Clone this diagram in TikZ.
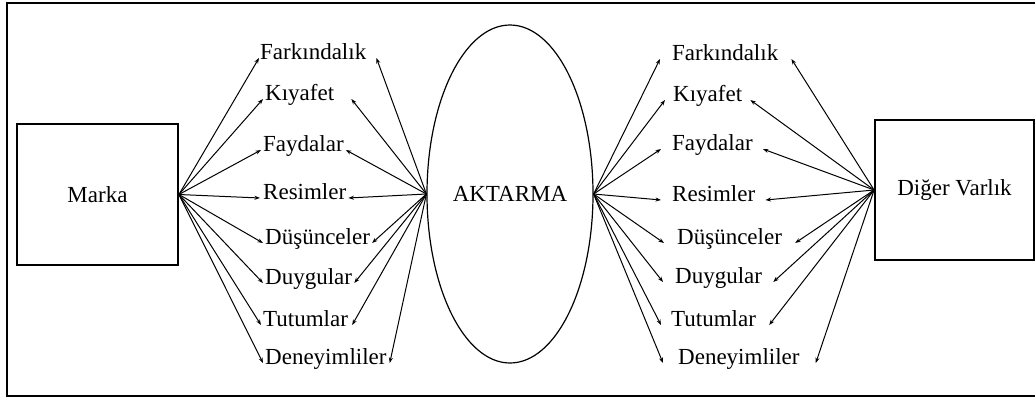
\documentclass[tikz,border=0pt]{standalone}
\usepackage{fontspec}
\setmainfont{Liberation Serif}
\usetikzlibrary{shapes.geometric,arrows.meta}
\begin{document}
\begin{tikzpicture}[x=1bp,y=-1bp,
  every node/.style={font=\fontsize{23bp}{27bp}\selectfont},
  box/.style={draw,line width=1.8bp,inner sep=0},
  lbl/.style={inner sep=0,anchor=west,text height=0.6em,text depth=0.24em},
  arr/.style={-{Stealth[length=5.5bp,width=4bp]},line width=1bp}]
\useasboundingbox (0,0) rectangle (1035,399);
% outer frame
\draw[line width=2.6bp] (1040,3) -- (7,3) -- (7,396) -- (1040,396);
% main shapes
\node[box,minimum width=161bp,minimum height=141bp] (marka) at (97.5,194.5) {Marka};
\node[draw,ellipse,line width=1.2bp,minimum width=166bp,minimum height=338bp,inner sep=0] (ell) at (510,194) {AKTARMA};
\node[box,minimum width=159bp,minimum height=140bp] (diger) at (954.5,190) {Diğer Varlık};
% left column of labels
\foreach \n/\t/\x/\y/\a/\b in {
  1/Farkındalık/260/58/1/10,
  2/Kıyafet/265/99/2/17,
  3/Faydalar/263/150/2/2,
  4/Resimler/263/198/3/2,
  5/Düşünceler/265/243/2/2,
  6/Duygular/265/283/2/2,
  7/Tutumlar/263/325/2/4,
  8/Deneyimliler/265/363/2/3}{
  \node[lbl] (L\n) at (\x,\y) {\t};
  \draw[arr] (marka.east) -- ([xshift=-\a bp]L\n.west);
  \draw[arr] (ell.west) -- ([xshift=\b bp]L\n.east);
}
% right column of labels
\foreach \n/\t/\x/\y/\a/\b in {
  1/Farkındalık/672/59/12/13,
  2/Kıyafet/673/100/8/8,
  3/Faydalar/672/149/11/10,
  4/Resimler/672/200/11/10,
  5/Düşünceler/677/243/13/13,
  6/Duygular/675/282/12/11,
  7/Tutumlar/671/325/10/13,
  8/Deneyimliler/678/363/15/16}{
  \node[lbl] (R\n) at (\x,\y) {\t};
  \draw[arr] (ell.east) -- ([xshift=-\a bp]R\n.west);
  \draw[arr] (diger.west) -- ([xshift=\b bp]R\n.east);
}
\end{tikzpicture}
\end{document}
